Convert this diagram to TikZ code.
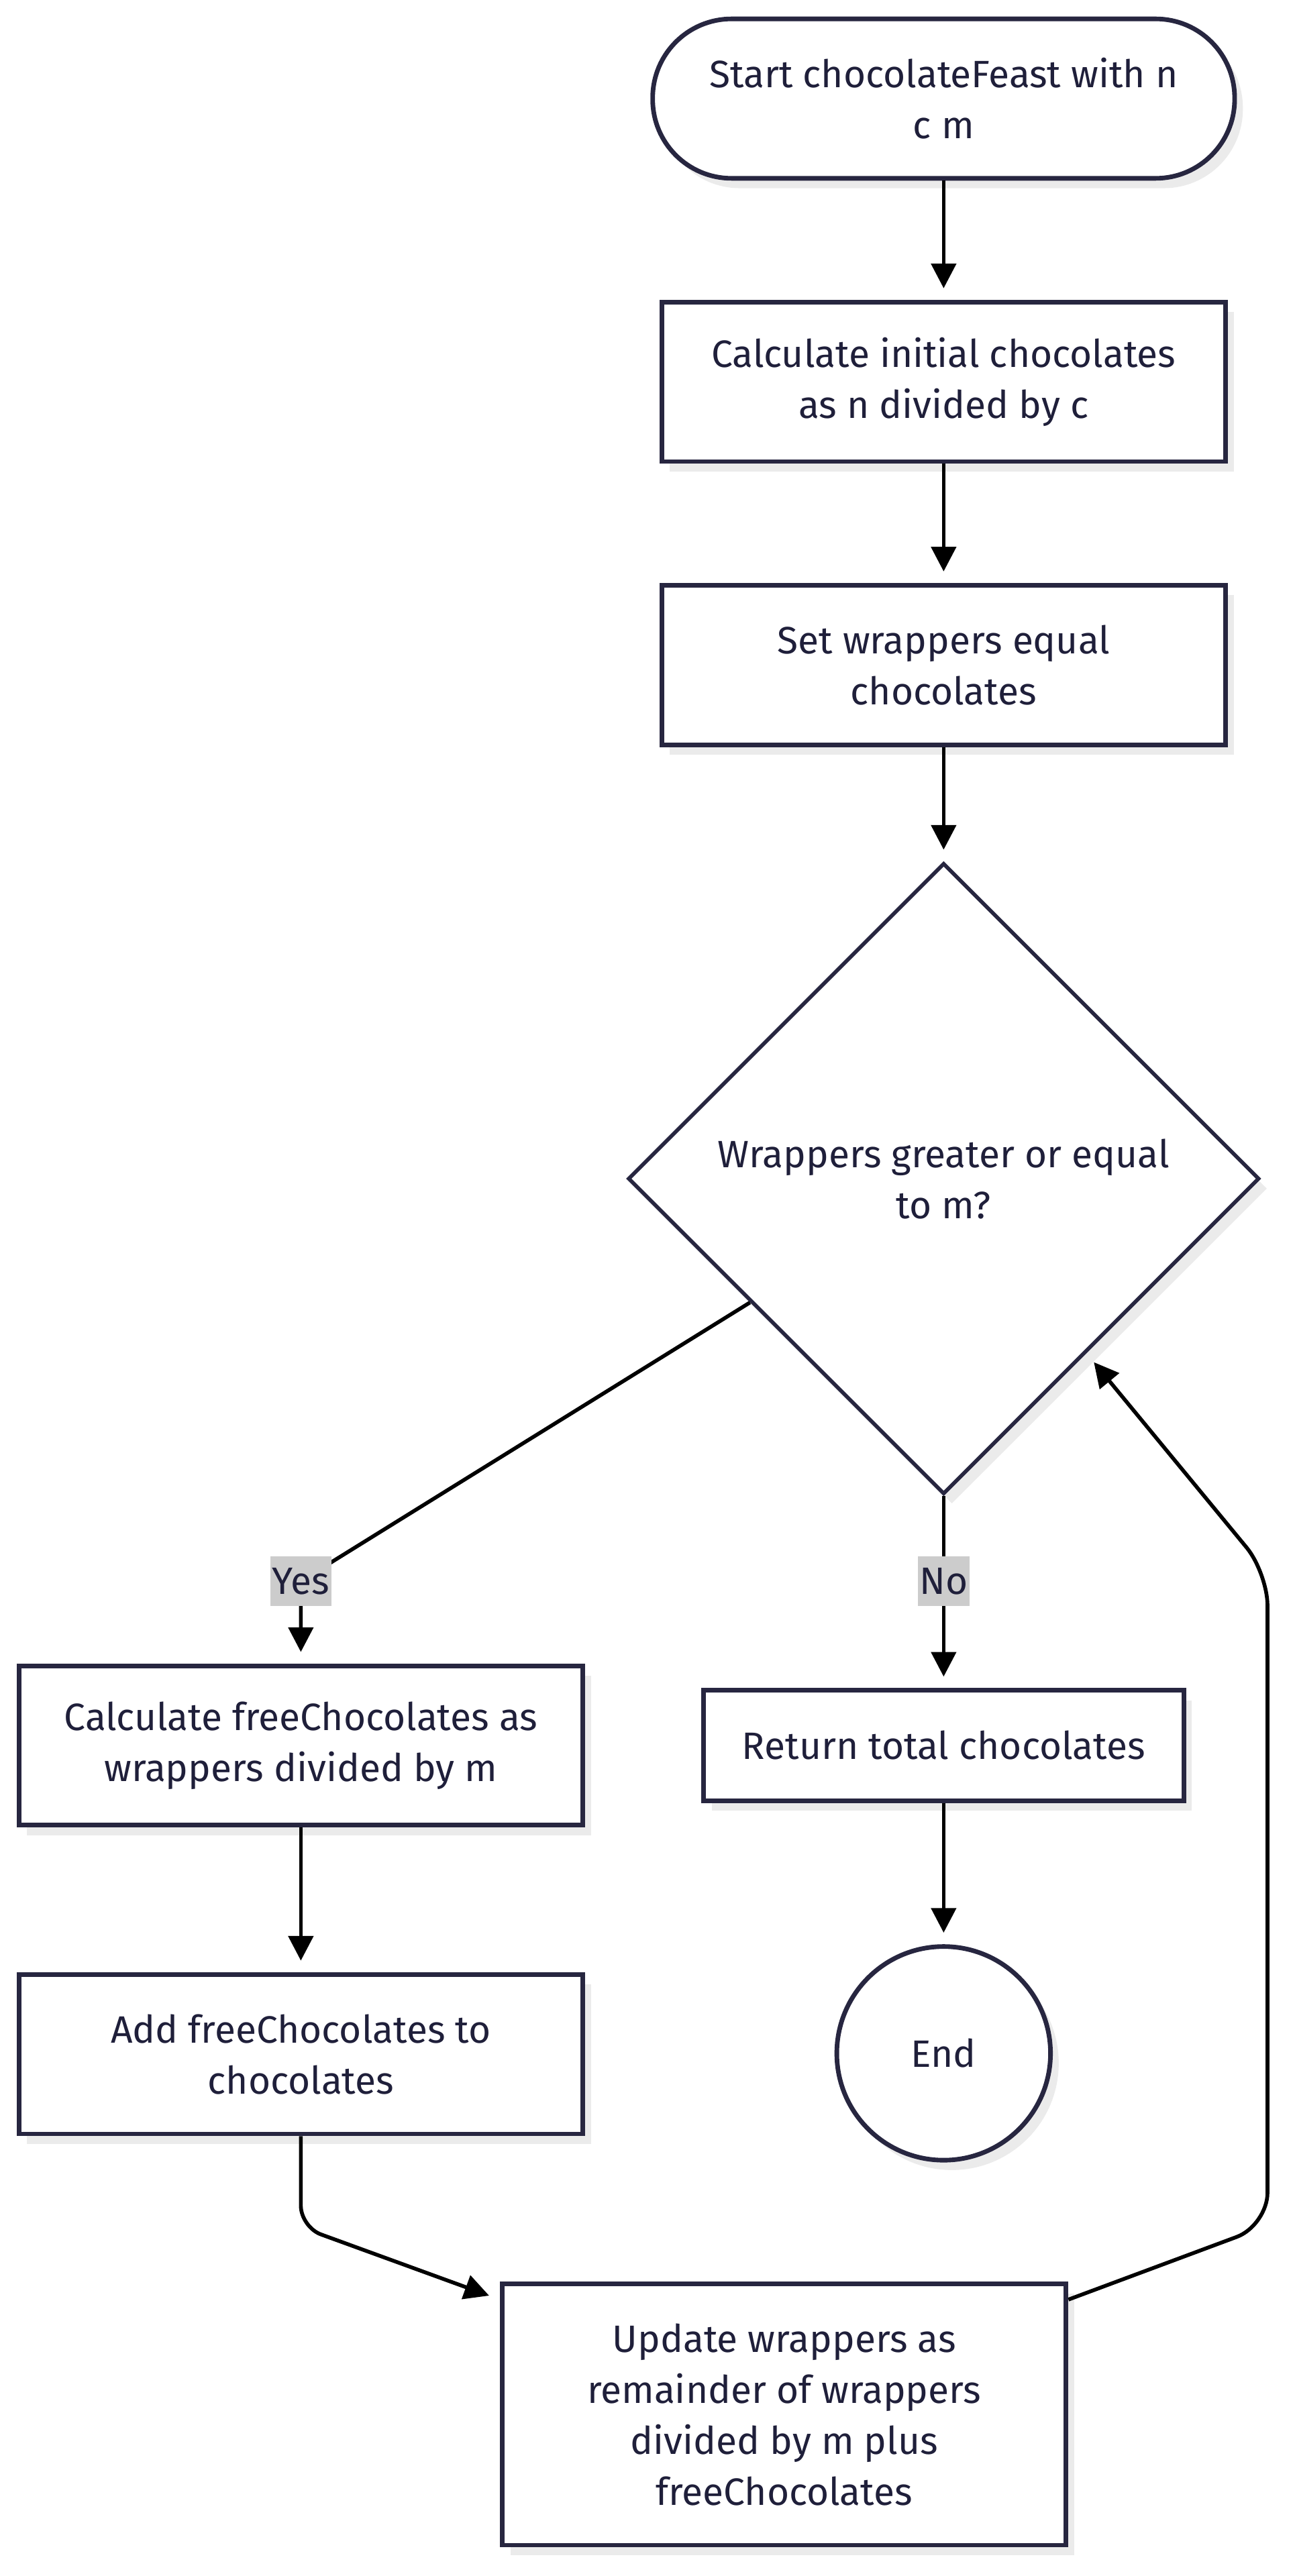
\documentclass[tikz,border=0pt]{standalone}
\usepackage{fontspec}
\setmainfont{Fira Sans}
\usetikzlibrary{positioning, shapes.geometric, arrows.meta, shadows, calc}
\definecolor{lineColor}{HTML}{272640}
\definecolor{textColor}{HTML}{1F1F3A}
\definecolor{shadowColor}{HTML}{EBEBEB}
\definecolor{labelColor}{HTML}{CCCCCC}

\begin{document}
\begin{tikzpicture}[
  x=1pt, y=-1pt,
  node distance=72.5pt and 0pt,
  every node/.style={
    text=textColor,
    align=center,
    inner sep=0pt,
    font=\fontsize{23.2}{31}\selectfont
  },
  shadowed/.style={
    drop shadow={shadow xshift=5pt, shadow yshift=-6pt, fill=shadowColor, opacity=1}
  },
  procbox/.style={
    rectangle,
    draw=lineColor,
    fill=white,
    line width=2.8pt,
    minimum width=343pt,
    minimum height=97pt,
    shadowed
  },
  termbox/.style={
    procbox,
    rounded corners=48pt,
    minimum width=354pt
  },
  decision/.style={
    diamond,
    draw=lineColor,
    fill=white,
    line width=2.3pt,
    shape aspect=1,
    minimum width=384pt,
    minimum height=384pt,
    shadowed
  },
  endcircle/.style={
    circle,
    draw=lineColor,
    fill=white,
    line width=2.8pt,
    minimum size=130pt,
    shadowed
  },
  edgelabel/.style={
    fill=labelColor,
    inner xsep=1pt,
    minimum height=30pt
  },
  arrow/.style={
    -{Triangle[length=15pt, width=15pt]},
    line width=2.3pt,
    draw=black,
    shorten >=7pt
  }
]
  \useasboundingbox (0,0) rectangle (786.5,1567.3);

  % Define nodes
  \node[termbox] (start) at (574,60) {Start chocolateFeast with n\\c m};
  \node[procbox, below=of start] (init) {Calculate initial chocolates\\as n divided by c};
  \node[procbox, below=of init] (setwrap) {Set wrappers equal\\chocolates};
  \node[decision, below=69.5pt of setwrap] (check) {Wrappers greater or equal\\to m?};
  \node[procbox] (freecalc) at (183,1062) {Calculate freeChocolates as\\wrappers divided by m};
  \node[procbox, minimum width=292pt, minimum height=67pt] (ret) at (574,1062) {Return total chocolates};
  \node[procbox, below=88pt of freecalc] (addfree) {Add freeChocolates to\\chocolates};
  \node[endcircle, below=86pt of ret] (stop) {End};
  \node[procbox, minimum height=159pt] (update) at (477,1469) {Update wrappers as\\remainder of wrappers\\divided by m plus\\freeChocolates};

  \coordinate (yesBend) at (freecalc.north |- 0,962);
  \coordinate (noBend) at (ret.north |- 0,962);

  % Connect nodes with arrows
  \draw[arrow] (start) -- (init);
  \draw[arrow] (init) -- (setwrap);
  \draw[arrow] (setwrap) -- (check);
  \draw[arrow] ($(check.west)!0.39!(check.south)$) -- (yesBend) -- (freecalc);
  \draw[arrow] (check.south) -- (ret);
  \draw[arrow] (ret) -- (stop);
  \draw[arrow] (freecalc) -- (addfree);
  \draw[arrow, rounded corners=13pt] (addfree.south) -- (addfree.south |- 0,1355) -- ([yshift=-11pt]update.north west);
  \draw[arrow, rounded corners=20pt] ([yshift=-11pt]update.north east) -- (771,1354) -- (771,957) -- ($(check.east)!0.55!(check.south)$);

  % Edge labels
  \node[edgelabel] at (yesBend) {Yes};
  \node[edgelabel] at (noBend) {No};
\end{tikzpicture}
\end{document}
